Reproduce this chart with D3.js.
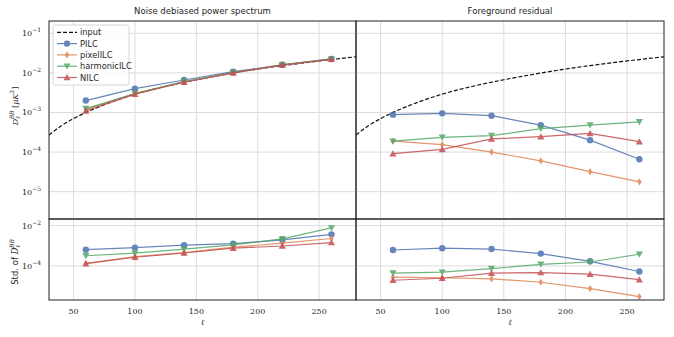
<!DOCTYPE html>
<html>
<head>
<meta charset="utf-8">
<script src="https://cdn.jsdelivr.net/npm/d3@7"></script>
<style>
  body { margin: 0; background: #fff; }
  svg text { fill: #262626; }
  .tick-label { font-family: "DejaVu Serif", "Liberation Serif", serif; font-size: 8px; }
  .title { font-family: "DejaVu Sans", sans-serif; font-size: 8.5px; }
  .legend { font-family: "DejaVu Sans", sans-serif; font-size: 8.3px; }
</style>
</head>
<body>
<div id="container"></div>
<script>
// multipole bins
const ells = [60, 100, 140, 180, 220, 260];
const methods = ["PILC", "pixelILC", "harmonicILC", "NILC"];

// input spectrum
const inputEll = [30, 40, 50, 60, 80, 100, 125, 150, 175, 200, 225, 250, 280];
const inputDl = [2.7e-4, 4.6e-4, 7.0e-4, 1.0e-3, 1.8e-3, 2.9e-3, 4.6e-3, 6.7e-3, 9.3e-3, 1.25e-2, 1.6e-2, 2.0e-2, 2.55e-2];

// noise debiased power spectrum (mean)
const debiasedPILC = [2.0e-3, 4.0e-3, 6.6e-3, 1.07e-2, 1.6e-2, 2.25e-2];
const debiasedPixel = [1.2e-3, 3.0e-3, 6.0e-3, 1.0e-2, 1.6e-2, 2.2e-2];
const debiasedHarmonic = [1.25e-3, 3.0e-3, 6.0e-3, 1.02e-2, 1.6e-2, 2.25e-2];
const debiasedNILC = [1.1e-3, 2.9e-3, 5.8e-3, 1.0e-2, 1.58e-2, 2.2e-2];

// foreground residual (mean)
const fgPILC = [8.8e-4, 9.5e-4, 8.3e-4, 4.8e-4, 2.0e-4, 6.6e-5];
const fgPixel = [1.88e-4, 1.54e-4, 1.0e-4, 6.0e-5, 3.2e-5, 1.77e-5];
const fgHarmonic = [1.88e-4, 2.35e-4, 2.6e-4, 3.9e-4, 4.8e-4, 5.8e-4];
const fgNILC = [9.1e-5, 1.17e-4, 2.15e-4, 2.45e-4, 2.97e-4, 1.83e-4];

// std of debiased spectrum
const stdDebPILC = [6.4e-4, 8.1e-4, 1.07e-3, 1.28e-3, 1.95e-3, 3.7e-3];
const stdDebPixel = [1.35e-4, 2.9e-4, 4.6e-4, 8.5e-4, 1.35e-3, 2.3e-3];
const stdDebHarmonic = [3.2e-4, 4.3e-4, 6.9e-4, 1.1e-3, 2.2e-3, 7.7e-3];
const stdDebNILC = [1.3e-4, 2.7e-4, 4.4e-4, 7.6e-4, 9.8e-4, 1.45e-3];

// std of foreground residual
const stdFgPILC = [6.2e-4, 7.6e-4, 6.9e-4, 4.1e-4, 1.7e-4, 5.3e-5];
const stdFgPixel = [2.8e-5, 2.6e-5, 2.3e-5, 1.55e-5, 7.5e-6, 3.0e-6];
const stdFgHarmonic = [4.4e-5, 4.9e-5, 7.4e-5, 1.2e-4, 1.57e-4, 3.8e-4];
const stdFgNILC = [1.95e-5, 2.45e-5, 4.4e-5, 4.7e-5, 3.9e-5, 2.1e-5];

const xTicks = [50, 100, 150, 200, 250];
const topYTicks = [-5, -4, -3, -2, -1];
const bottomYTicks = [-4, -2];

const colors = { PILC: "#4c72b0", pixelILC: "#dd8452", harmonicILC: "#55a868", NILC: "#c44e52" };
const markers = { PILC: "circle", pixelILC: "diamond", harmonicILC: "down", NILC: "up" };

const W = 674, H = 337;
const svg = d3.select("#container").append("svg")
    .attr("width", W).attr("height", H);

const cols = [{ x0: 49, x1: 356 }, { x0: 356, x1: 664 }];
const rows = [
    { y0: 21, y1: 219, domain: [Math.pow(10, -5.69), Math.pow(10, -0.69)], ticks: topYTicks },
    { y0: 219, y1: 300, domain: [Math.pow(10, -5.69), Math.pow(10, -1.67)], ticks: bottomYTicks }
];

const panels = [
    { r: 0, c: 0, series: [debiasedPILC, debiasedPixel, debiasedHarmonic, debiasedNILC], input: true },
    { r: 0, c: 1, series: [fgPILC, fgPixel, fgHarmonic, fgNILC], input: true },
    { r: 1, c: 0, series: [stdDebPILC, stdDebPixel, stdDebHarmonic, stdDebNILC] },
    { r: 1, c: 1, series: [stdFgPILC, stdFgPixel, stdFgHarmonic, stdFgNILC] }
];

function markerPath(type, x, y) {
    const s = 3.2;
    if (type === "circle") return `M${x - s},${y}a${s},${s} 0 1,0 ${2 * s},0a${s},${s} 0 1,0 ${-2 * s},0Z`;
    if (type === "diamond") return `M${x},${y - 3.6}L${x + 2.2},${y}L${x},${y + 3.6}L${x - 2.2},${y}Z`;
    if (type === "down") return `M${x - 3.6},${y - 2.8}L${x + 3.6},${y - 2.8}L${x},${y + 3.4}Z`;
    return `M${x - 3.6},${y + 2.8}L${x + 3.6},${y + 2.8}L${x},${y - 3.4}Z`;
}

function supText(sel, base, exp) {
    sel.append("tspan").text(base);
    sel.append("tspan").attr("dy", -4).attr("font-size", "6px").text(exp);
}

panels.forEach(p => {
    const col = cols[p.c], row = rows[p.r];
    const x = d3.scaleLinear().domain([30, 280]).range([col.x0, col.x1]);
    const y = d3.scaleLog().domain(row.domain).range([row.y1, row.y0]);
    const g = svg.append("g");

    const clipId = `clip${p.r}${p.c}`;
    g.append("clipPath").attr("id", clipId).append("rect")
        .attr("x", col.x0).attr("y", row.y0)
        .attr("width", col.x1 - col.x0).attr("height", row.y1 - row.y0);

    // grid
    g.selectAll(".vgrid").data(xTicks).enter().append("line")
        .attr("x1", d => x(d)).attr("x2", d => x(d))
        .attr("y1", row.y0).attr("y2", row.y1)
        .attr("stroke", "#dcdcdc").attr("stroke-width", 1);
    g.selectAll(".hgrid").data(row.ticks).enter().append("line")
        .attr("x1", col.x0).attr("x2", col.x1)
        .attr("y1", d => y(Math.pow(10, d))).attr("y2", d => y(Math.pow(10, d)))
        .attr("stroke", "#dcdcdc").attr("stroke-width", 1);

    const plot = g.append("g").attr("clip-path", `url(#${clipId})`);

    if (p.input) {
        plot.append("path")
            .datum(inputEll.map((l, i) => [l, inputDl[i]]))
            .attr("fill", "none").attr("stroke", "#111").attr("stroke-width", 1.2)
            .attr("stroke-dasharray", "4,2")
            .attr("d", d3.line().x(d => x(d[0])).y(d => y(d[1])).curve(d3.curveMonotoneX));
    }

    p.series.forEach((vals, k) => {
        const m = methods[k];
        const pts = ells.map((l, i) => [l, vals[i]]);
        const sg = plot.append("g").attr("opacity", 0.85);
        sg.append("path").datum(pts)
            .attr("fill", "none").attr("stroke", colors[m]).attr("stroke-width", 1.2)
            .attr("d", d3.line().x(d => x(d[0])).y(d => y(d[1])));
        sg.selectAll("path.mk").data(pts).enter().append("path")
            .attr("class", "mk")
            .attr("d", d => markerPath(markers[m], x(d[0]), y(d[1])))
            .attr("fill", colors[m]);
    });

    // frame
    g.append("rect")
        .attr("x", col.x0).attr("y", row.y0)
        .attr("width", col.x1 - col.x0).attr("height", row.y1 - row.y0)
        .attr("fill", "none").attr("stroke", "#222").attr("stroke-width", 1);

    // y tick labels on left column only
    if (p.c === 0) {
        row.ticks.forEach(t => {
            const tx = g.append("text").attr("class", "tick-label")
                .attr("x", col.x0 - 8).attr("y", y(Math.pow(10, t)) + 3)
                .attr("text-anchor", "end");
            supText(tx, "10", "\u2212" + Math.abs(t));
        });
    }
    // x tick labels on bottom row
    if (p.r === 1) {
        g.selectAll(".xt").data(xTicks).enter().append("text")
            .attr("class", "tick-label")
            .attr("x", d => x(d)).attr("y", row.y1 + 14)
            .attr("text-anchor", "middle")
            .text(d => d);
        g.append("text").attr("class", "tick-label")
            .attr("x", (col.x0 + col.x1) / 2).attr("y", row.y1 + 25)
            .attr("text-anchor", "middle").attr("font-style", "italic")
            .attr("font-size", "9px")
            .text("\u2113");
    }
});

// titles
svg.append("text").attr("class", "title")
    .attr("x", (cols[0].x0 + cols[0].x1) / 2).attr("y", 14)
    .attr("text-anchor", "middle").text("Noise debiased power spectrum");
svg.append("text").attr("class", "title")
    .attr("x", (cols[1].x0 + cols[1].x1) / 2).attr("y", 14)
    .attr("text-anchor", "middle").text("Foreground residual");

// y labels
const yl1 = svg.append("text").attr("class", "tick-label")
    .attr("transform", `translate(18,106) rotate(-90)`)
    .attr("text-anchor", "middle").attr("font-size", "8.5px");
yl1.append("tspan").attr("font-style", "italic").text("D");
yl1.append("tspan").attr("dy", 2).attr("font-size", "6px").attr("font-style", "italic").text("\u2113");
yl1.append("tspan").attr("dy", -6).attr("dx", -3).attr("font-size", "6px").attr("font-style", "italic").text("BB");
yl1.append("tspan").attr("dy", 4).text(" [");
yl1.append("tspan").attr("font-style", "italic").text("\u03bcK");
yl1.append("tspan").attr("dy", -4).attr("font-size", "6px").text("2");
yl1.append("tspan").attr("dy", 4).text("]");

const yl2 = svg.append("text").attr("class", "title")
    .attr("transform", `translate(18,262) rotate(-90)`)
    .attr("text-anchor", "middle").attr("font-size", "8px");
yl2.append("tspan").text("Std. of ");
yl2.append("tspan").attr("font-family", "DejaVu Serif, serif").attr("font-style", "italic").text("D");
yl2.append("tspan").attr("dy", 2).attr("font-size", "6px").attr("font-family", "DejaVu Serif, serif").attr("font-style", "italic").text("\u2113");
yl2.append("tspan").attr("dy", -6).attr("dx", -3).attr("font-size", "6px").attr("font-family", "DejaVu Serif, serif").attr("font-style", "italic").text("BB");

// legend
const lg = svg.append("g");
lg.append("rect").attr("x", 53).attr("y", 25).attr("width", 76).attr("height", 60)
    .attr("rx", 2).attr("fill", "#fff").attr("fill-opacity", 0.85)
    .attr("stroke", "#ccc").attr("stroke-width", 0.8);
const legendItems = ["input"].concat(methods);
legendItems.forEach((name, i) => {
    const yy = 32.3 + i * 11.3;
    if (name === "input") {
        lg.append("line").attr("x1", 57).attr("x2", 77).attr("y1", yy).attr("y2", yy)
            .attr("stroke", "#111").attr("stroke-width", 1.2).attr("stroke-dasharray", "4,2");
    } else {
        const gg = lg.append("g").attr("opacity", 0.85);
        gg.append("line").attr("x1", 57).attr("x2", 77).attr("y1", yy).attr("y2", yy)
            .attr("stroke", colors[name]).attr("stroke-width", 1.2);
        gg.append("path").attr("d", markerPath(markers[name], 67, yy)).attr("fill", colors[name]);
    }
    lg.append("text").attr("class", "legend").attr("x", 80).attr("y", yy + 3).text(name);
});
</script>
</body>
</html>
